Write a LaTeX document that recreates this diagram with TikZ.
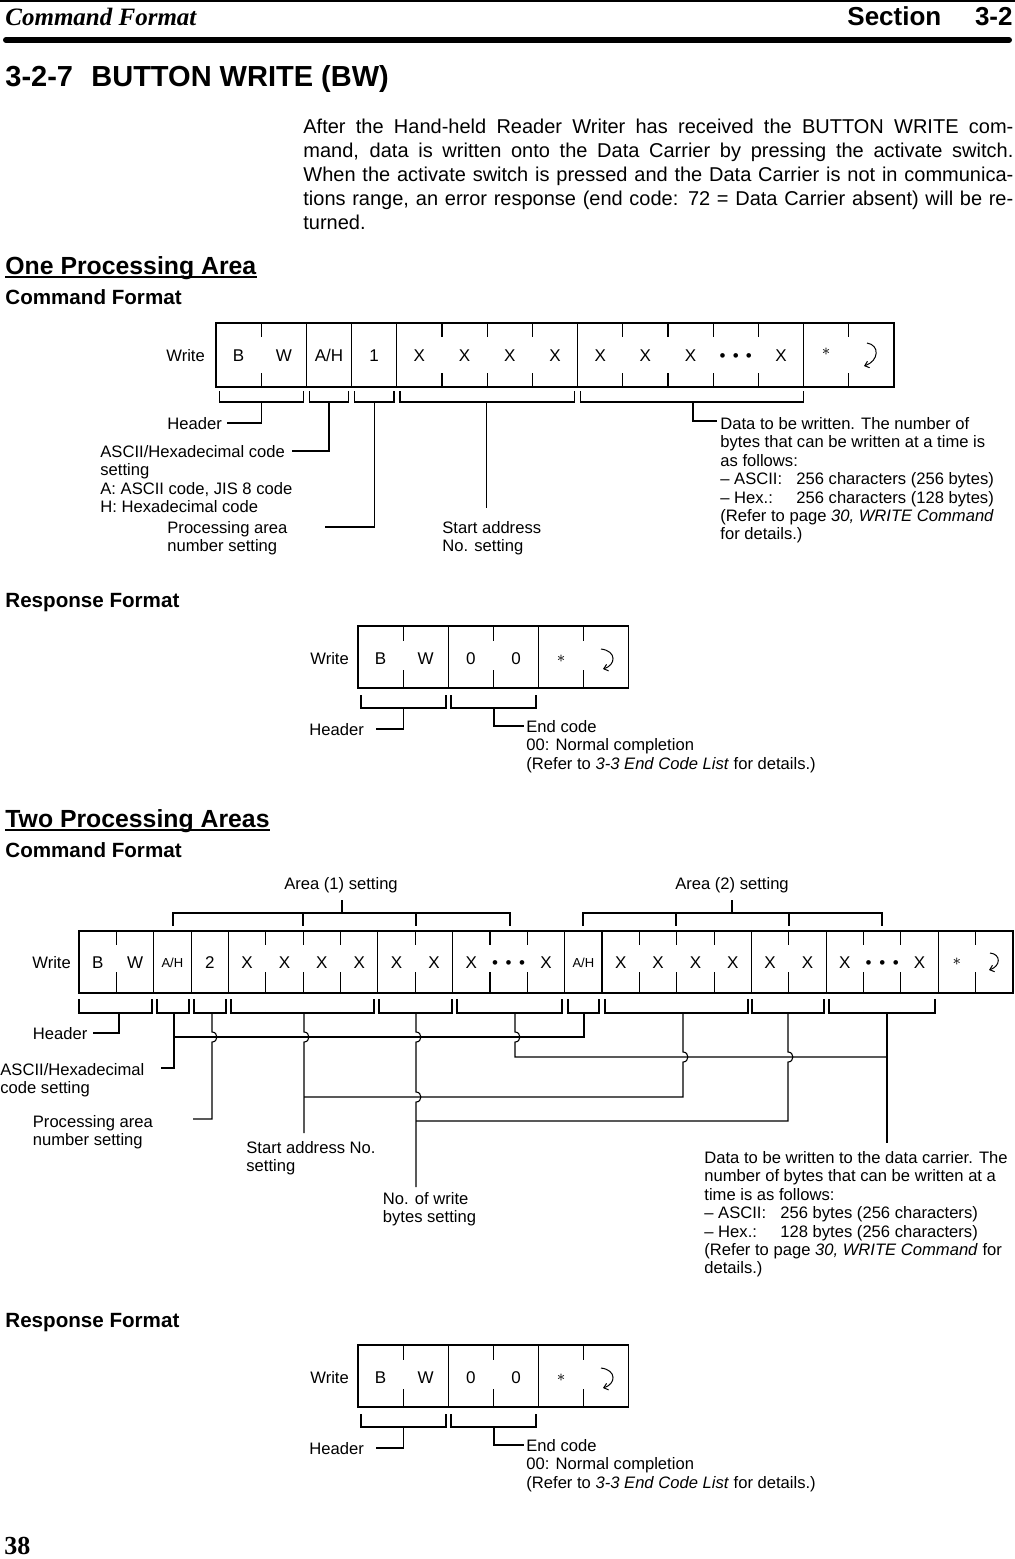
\documentclass[tikz,border=0pt]{standalone}
\usepackage{fontspec}
\setmainfont{Liberation Sans}
\newfontfamily\tmsfont{Liberation Serif}
\usetikzlibrary{arrows.meta,calc}

\newcommand\hopdn[2]{-- (#1,{#2-5}) .. controls ({#1+6.5},{#2-5}) and ({#1+6.5},{#2+5}) .. (#1,{#2+5})}
\newcommand\hopup[2]{-- (#1,{#2+5}) .. controls ({#1+6.5},{#2+5}) and ({#1+6.5},{#2-5}) .. (#1,{#2-5})}
\newcommand\brk[4]{\draw[cl] (#1,#3) -- (#1,#4) -- (#2,#4) -- (#2,#3);}

\tikzset{
  cl/.style={line width=0.55pt, black},
  ct/.style={inner sep=0pt, anchor=base, font=\fontsize{8.5}{10}\selectfont},
  cts/.style={inner sep=0pt, anchor=base, font=\fontsize{6.5}{8}\selectfont},
  wl/.style={inner sep=0pt, anchor=base west, font=\fontsize{8.3}{9.2}\selectfont},
  lbl/.style={inner sep=0pt, anchor=north west, align=left, font=\fontsize{8.3}{9.2}\selectfont},
  alb/.style={inner sep=0pt, anchor=base, font=\fontsize{8.3}{9.2}\selectfont},
  crar/.style={line width=0.5pt, -{Straight Barb[length=2pt,width=3.4pt]}},
  hone/.style={inner sep=0pt, anchor=base west, font=\bfseries\fontsize{12.4}{14}\selectfont},
  htwo/.style={inner sep=0pt, anchor=base west, font=\bfseries\fontsize{10.3}{12}\selectfont},
}

\begin{document}
\begin{tikzpicture}[x=0.5pt,y=-0.5pt]
\useasboundingbox (0,0) rectangle (1015,1559);

% ---------- page header ----------
\draw[line width=1pt] (0,1) -- (1015,1);
\node[anchor=base west, inner sep=0pt, font=\tmsfont\bfseries\itshape\fontsize{12.5}{14}\selectfont] (pghead) at (5,25) {Command Format};
\node[anchor=base west, inner sep=0pt, font=\bfseries\fontsize{13}{15}\selectfont] (sect) at (847,25) {Section};
\node[anchor=base east, inner sep=0pt, font=\bfseries\fontsize{13}{15}\selectfont] (sectno) at (1013,25) {3-2};
\draw[line width=3pt, line cap=round] (6,40) -- (1009,40);

% ---------- title and body ----------
\node[anchor=base west, inner sep=0pt, font=\bfseries\fontsize{14.5}{17}\selectfont] (tnum) at (5,86) {3-2-7};
\node[anchor=base west, inner sep=0pt, font=\bfseries\fontsize{14.5}{17}\selectfont] (ttl) at (91,86) {BUTTON WRITE (BW)};
\node[anchor=north west, inner sep=0pt, align=left, font=\fontsize{10}{12}\selectfont] (body) at (303,118.5)
 {\makebox[355pt][s]{After the Hand-held Reader Writer has received the BUTTON WRITE com-}\\
  \makebox[355pt][s]{mand, data is written onto the Data Carrier by pressing the activate switch.}\\
  \makebox[355pt][s]{When the activate switch is pressed and the Data Carrier is not in communica-}\\
  \makebox[355pt][s]{tions range, an error response (end code: 72 = Data Carrier absent) will be re-}\\
  turned.};

\node[hone] (oneA) at (5,274) {One Processing Area};
\draw[line width=1pt] ([yshift=-1.6pt]oneA.base west) -- ([yshift=-1.6pt]oneA.base east);
\node[htwo] (cf1) at (5,304) {Command Format};
\node[htwo] (rf1) at (5,607) {Response Format};
\node[hone] (twoA) at (5,827) {Two Processing Areas};
\draw[line width=1pt] ([yshift=-1.6pt]twoA.base west) -- ([yshift=-1.6pt]twoA.base east);
\node[htwo] (cf2) at (5,857) {Command Format};
\node[htwo] (rf2) at (5,1327) {Response Format};

% ---------- one area: command ----------
\node[wl] (w1) at (166,361) {Write};
\draw[cl] (216,323) rectangle (894,387);
\foreach \i in {2,3,4,8,13} \draw[cl] ({216+\i*45.2},323) -- ({216+\i*45.2},387);
\foreach \i in {1,5,6,7,9,10,11,12,14} \draw[cl] ({216+\i*45.2},323) -- ++(0,14) ({216+\i*45.2},387) -- ++(0,-14);
\foreach \i/\t in {0/B,1/W,3/1,4/X,5/X,6/X,7/X,8/X,9/X,10/X,12/X}
  \node[ct] (c1-\i) at ({216+(\i+0.5)*45.2},361) {\t};
\node[ct] (c1-2) at ({216+2.5*45.2},361) {A/H};
\node[ct] (c1-11) at ({216+11.5*45.2},361) {•\hspace{3.6pt}•\hspace{3.6pt}•};
\node[ct] (c1-13) at ({216+13.5*45.2},361) {\raisebox{2.9pt}{$\ast$}};
\draw[crar] (867,343) .. controls (880,345) and (879,361) .. (864,366);

\brk{219.5}{303.5}{391}{402}
\brk{309.5}{348.5}{391}{402}
\brk{354.5}{394}{391}{402}
\brk{400}{574.5}{391}{402}
\brk{580.5}{803.6}{391}{402}

\node[lbl] (hdrL1) at (167,417) {Header};
\node[lbl] (ahL1) at (100,445) {ASCII/Hexadecimal code\\setting\\A: ASCII code, JIS 8 code\\H: Hexadecimal code};
\node[lbl] (pnL1) at (167,521) {Processing area\\number setting};
\node[lbl] (saL1) at (442,521) {Start address\\No. setting};
\node[lbl] (dtL1) at (720,417) {Data to be written. The number of\\bytes that can be written at a time is\\as follows:\\\makebox[38pt][l]{– ASCII:}256 characters (256 bytes)\\\makebox[38pt][l]{– Hex.:}256 characters (128 bytes)\\(Refer to page \textit{30, WRITE Command}\\for details.)};

\coordinate (hS1) at (261.5,402); \coordinate (hE1) at (227,423);
\coordinate (ahS1) at (329,402); \coordinate (ahE1) at (292,451);
\coordinate (pnS1) at (374.5,402); \coordinate (pnE1) at (325,527);
\coordinate (saS1) at (486.5,402); \coordinate (saE1) at (486.5,508);
\coordinate (dtS1) at (693,402); \coordinate (dtE1) at (717,421);
\draw[cl] (hS1) |- (hE1);
\draw[cl] (ahS1) |- (ahE1);
\draw[cl] (pnS1) |- (pnE1);
\draw[cl] (saS1) -- (saE1);
\draw[cl] (dtS1) |- (dtE1);

% ---------- response formats ----------
\foreach \oy/\p in {0/ra,719/rb}{
\begin{scope}[shift={(0,\oy)}]
  \node[wl] (\p-w) at (310,664) {Write};
  \draw[cl] (358,626) rectangle (628.9,688);
  \foreach \i in {2,4} \draw[cl] ({358+\i*45.15},626) -- ({358+\i*45.15},688);
  \foreach \i in {1,3,5} \draw[cl] ({358+\i*45.15},626) -- ++(0,15) ({358+\i*45.15},688) -- ++(0,-18);
  \foreach \i/\t in {0/B,1/W,2/0,3/0}
    \node[ct] (\p-c\i) at ({358+(\i+0.5)*45.15},664) {\t};
  \node[ct] (\p-c4) at ({358+4.5*45.15},664) {\raisebox{0.6pt}{$\ast$}};
  \draw[crar] (601,649) .. controls (617,651) and (616,665) .. (603,669);
  \brk{361}{446}{695}{708}
  \brk{451}{536}{695}{708}
  \node[lbl] (\p-hdr) at (309,723) {Header};
  \node[lbl] (\p-end) at (526,720) {End code\\00: Normal completion\\(Refer to \textit{3-3 End Code List} for details.)};
  \coordinate (\p-hS) at (403.5,708); \coordinate (\p-hE) at (376,729);
  \coordinate (\p-eS) at (494,708); \coordinate (\p-eE) at (523.5,726);
  \draw[cl] (\p-hS) |- (\p-hE);
  \draw[cl] (\p-eS) |- (\p-eE);
\end{scope}
}

% ---------- two areas: command ----------
\node[alb] (a1L) at (341,889) {Area (1) setting};
\node[alb] (a2L) at (732,889) {Area (2) setting};
\draw[cl] (173,926) -- (173,913) -- (510,913) -- (510,926);
\draw[cl] (303,913) -- (303,926) (416,913) -- (416,926);
\draw[cl] (583,926) -- (583,913) -- (882,913) -- (882,926);
\draw[cl] (676,913) -- (676,926) (789,913) -- (789,926);
\coordinate (a1S) at (342,913); \coordinate (a1T) at (342,900);
\coordinate (a2S) at (732,913); \coordinate (a2T) at (732,900);
\draw[cl] (a1S) -- (a1T);
\draw[cl] (a2S) -- (a2T);

\node[wl] (w2) at (32,968) {Write};
\draw[cl] (79,931) rectangle (1013,993);
\foreach \i in {2,3,4,8,10,13,14,18,20,23} \draw[cl] ({79+\i*37.36},931) -- ({79+\i*37.36},993);
\foreach \i in {1,5,6,7,9,11,12,15,16,17,19,21,22,24} \draw[cl] ({79+\i*37.36},931) -- ++(0,14) ({79+\i*37.36},993) -- ++(0,-21);
\foreach \i/\t in {0/B,1/W,3/2,4/X,5/X,6/X,7/X,8/X,9/X,10/X,12/X,14/X,15/X,16/X,17/X,18/X,19/X,20/X,22/X}
  \node[ct] (c2-\i) at ({79+(\i+0.5)*37.36},968) {\t};
\node[cts] (c2-2) at ({79+2.5*37.36},967) {A/H};
\node[cts] (c2-13) at ({79+13.5*37.36},967) {A/H};
\node[ct] (c2-11) at ({79+11.5*37.36},968) {•\hspace{3.8pt}•\hspace{3.8pt}•};
\node[ct] (c2-21) at ({79+21.5*37.36},968) {•\hspace{3.8pt}•\hspace{3.8pt}•};
\node[ct] (c2-23) at ({79+23.5*37.36},968) {\raisebox{1.5pt}{$\ast$}};
\draw[crar] (990,953) .. controls (1001,954) and (1001,966) .. (989,970);

\brk{79}{152}{999}{1013}
\brk{157}{189}{999}{1013}
\brk{194}{226}{999}{1013}
\brk{231}{374}{999}{1013}
\brk{379}{452}{999}{1013}
\brk{457}{562}{999}{1013}
\brk{568}{599}{999}{1013}
\brk{605}{748}{999}{1013}
\brk{752}{824}{999}{1013}
\brk{829}{935}{999}{1013}

\node[lbl] (hdrL2) at (32.5,1027) {Header};
\node[lbl] (ahL2) at (0,1063) {ASCII/Hexadecimal\\code setting};
\node[lbl] (pnL2) at (32.5,1115) {Processing area\\number setting};
\node[lbl] (saL2) at (246,1141) {Start address No.\\setting};
\node[lbl] (nbL2) at (382.5,1192) {No. of write\\bytes setting};
\node[lbl] (dtL2) at (704,1151) {Data to be written to the data carrier. The\\number of bytes that can be written at a\\time is as follows:\\\makebox[38pt][l]{– ASCII:}256 bytes (256 characters)\\\makebox[38pt][l]{– Hex.:}128 bytes (256 characters)\\(Refer to page \textit{30, WRITE Command} for\\details.)};

\coordinate (hS2) at (119,1013); \coordinate (hE2) at (93,1033);
\draw[cl] (hS2) |- (hE2);
\coordinate (ah1S) at (174,1013); \coordinate (ah1E) at (161,1068);
\coordinate (ahJ) at (174,1037); \coordinate (ah2S) at (584,1013);
\draw[cl] (ah1S) |- (ah1E);
\draw[cl] (ahJ) -| (ah2S);
\coordinate (twS) at (212,1013); \coordinate (twE) at (193,1119);
\draw[cl] (twS) \hopdn{212}{1037} |- (twE);
\coordinate (sa1S) at (304,1013); \coordinate (sa1E) at (304,1133);
\coordinate (saJ) at (304,1097); \coordinate (sa2S) at (683,1013);
\draw[cl] (sa1S) \hopdn{304}{1037} -- (sa1E);
\draw[cl] (saJ) -- (saJ -| sa2S) \hopup{683}{1057} -- (sa2S);
\coordinate (nb1S) at (416,1013); \coordinate (nb1E) at (416,1187);
\coordinate (nbJ) at (416,1121); \coordinate (nb2S) at (788,1013);
\draw[cl] (nb1S) \hopdn{416}{1037} \hopdn{416}{1097} -- (nb1E);
\draw[cl] (nbJ) -- (nbJ -| nb2S) \hopup{788}{1057} -- (nb2S);
\coordinate (d1S) at (515,1013); \coordinate (dJ) at (887,1057);
\coordinate (d2S) at (887,1013); \coordinate (d2E) at (887,1143);
\draw[cl] (d1S) \hopdn{515}{1037} |- (dJ);
\draw[cl] (d2S) -- (d2E);

% ---------- footer ----------
\node[anchor=base west, inner sep=0pt, font=\tmsfont\bfseries\fontsize{13}{15}\selectfont] (pgno) at (4,1554) {38};
\end{tikzpicture}
\end{document}
